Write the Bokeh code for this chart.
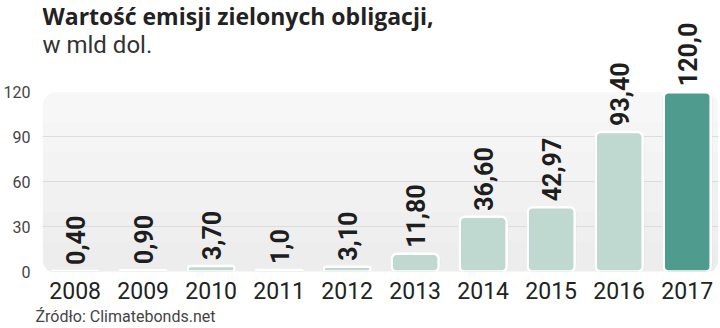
import math
from bokeh.plotting import figure
from bokeh.models import (ColumnDataSource, FixedTicker, BoxAnnotation, Label, Title)
from bokeh.core.properties import value
from bokeh.embed import file_html
from bokeh.resources import INLINE

years = ["2008", "2009", "2010", "2011", "2012", "2013", "2014", "2015", "2016", "2017"]
values = [0.40, 0.90, 3.70, 1.0, 3.10, 11.80, 36.60, 42.97, 93.40, 120.0]
value_labels = ["0,40", "0,90", "3,70", "1,0", "3,10", "11,80", "36,60", "42,97", "93,40", "120,0"]
y_ticks = [0, 30, 60, 90, 120]
grid_ticks = [30, 60, 90]

LIGHT = "#bfd9d1"
DARK = "#4f9c8e"
colors = [LIGHT] * (len(years) - 1) + [DARK]

xs = list(range(len(years)))
src = ColumnDataSource(dict(x=xs, top=values, lab=value_labels, color=colors))

FONT = "Roboto"
TFONT = "Open Sans"

p = figure(width=720, height=328, output_backend="svg", toolbar_location=None,
           x_range=(-0.48, 9.46), y_range=(0, 272 / 1.5),
           min_border_left=36, min_border_right=2, min_border_top=0,
           min_border_bottom=6)
p.outline_line_color = None
p.background_fill_color = "white"
p.border_fill_color = "white"

# background panel with soft vertical gradient
p.add_layout(BoxAnnotation(bottom=-1.5, top=120, fill_color="#f7f7f7", fill_alpha=1,
                           line_color=None, border_radius=14, level="image"))
N = 6
for k in range(1, N):
    p.add_layout(BoxAnnotation(bottom=-1.5, top=120 * k / N, fill_color="black",
                               fill_alpha=0.009, line_color=None,
                               border_radius=(0, 0, 14, 14), level="image"))

# bars: outer gray edge, white border, fill
p.vbar(x="x", top="top", bottom=-0.4, width=0.72, source=src, fill_color=None,
       line_color="#d6d6d6", line_width=1, border_radius=6)
p.vbar(x="x", top="top", bottom=0, width=0.69, source=src, fill_color="color",
       line_color="white", line_width=2.5, border_radius=5)

p.text(x="x", y="top", text="lab", source=src, angle=math.pi / 2,
       text_align="left", text_baseline="middle", y_offset=-6,
       text_font=value(FONT), text_font_style="bold", text_font_size="25px",
       text_color="#1e1e1e")

# axes
p.xaxis.ticker = FixedTicker(ticks=xs)
p.xaxis.major_label_overrides = {i: y for i, y in enumerate(years)}
p.xaxis.axis_line_color = None
p.xaxis.major_tick_line_color = None
p.xaxis.minor_tick_line_color = None
p.xaxis.major_label_text_font = FONT
p.xaxis.major_label_text_font_size = "23px"
p.xaxis.major_label_text_color = "#222222"
p.xaxis.major_label_standoff = 4

p.yaxis.ticker = FixedTicker(ticks=y_ticks)
p.yaxis.axis_line_color = None
p.yaxis.major_tick_line_color = None
p.yaxis.minor_tick_line_color = None
p.yaxis.major_label_text_font = FONT
p.yaxis.major_label_text_font_size = "16px"
p.yaxis.major_label_text_color = "#444444"
p.yaxis.major_label_standoff = 6

p.xgrid.grid_line_color = None
p.ygrid.ticker = FixedTicker(ticks=grid_ticks)
p.ygrid.grid_line_color = "#dcdcdc"
p.ygrid.grid_line_width = 1

# source line below the axis
p.add_layout(Title(text="Źródło: Climatebonds.net", text_font=FONT,
                   text_font_size="16px", text_font_style="normal",
                   text_color="#444444", align="left", offset=-7, standoff=6),
             "below")

# titles
p.add_layout(Label(x=0, y=272, x_units="screen", y_units="screen",
                   text="Wartość emisji zielonych obligacji,", text_font=TFONT,
                   text_font_style="bold", text_font_size="23px",
                   text_color="#222222", text_baseline="top"))
p.add_layout(Label(x=0, y=241, x_units="screen", y_units="screen",
                   text="w mld dol.", text_font=FONT, text_font_size="24px",
                   text_color="#333333", text_baseline="top"))

open("out.html", "w").write(file_html(p, INLINE))
